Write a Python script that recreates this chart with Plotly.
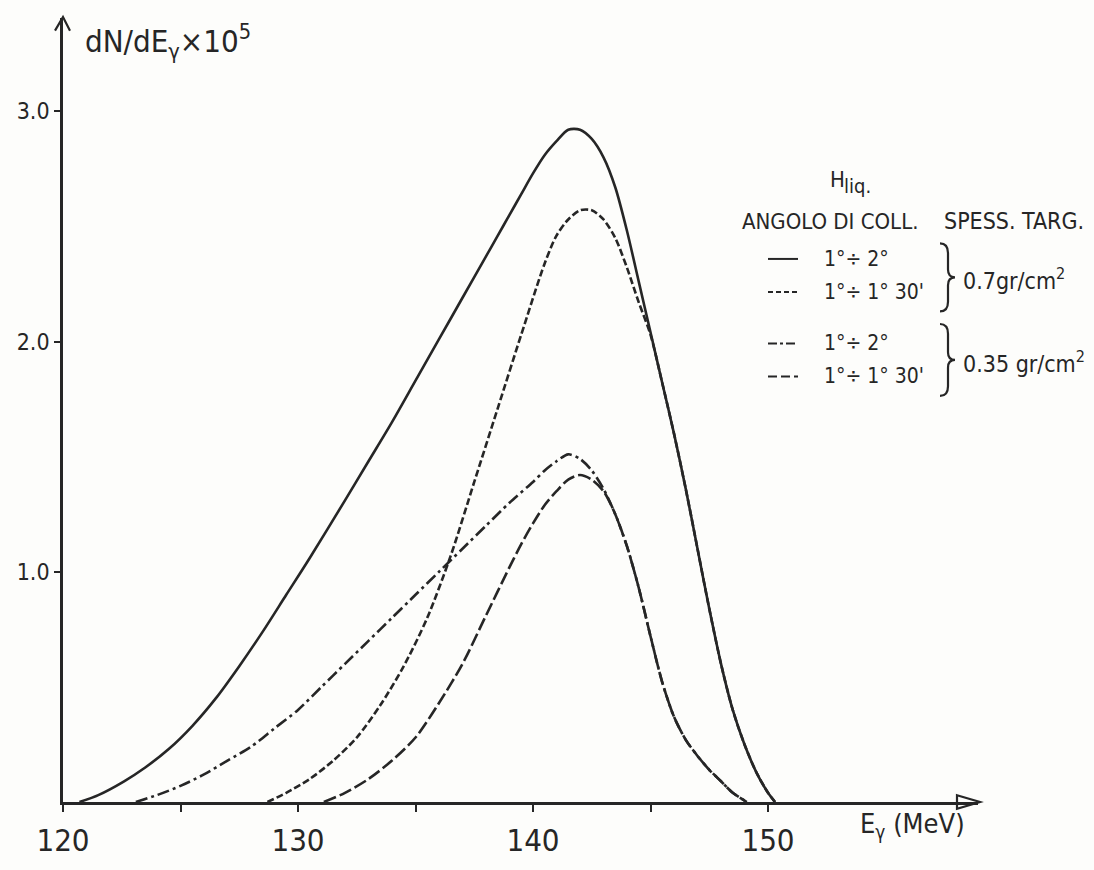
import plotly.graph_objects as go

# ---------------- data ----------------
# H liq., 0.7 gr/cm2, collimation 1°÷2°  (solid)
E_a = [120.7, 121.5, 122.6, 123.5, 124.5, 125.5, 126.5, 127.5, 128.5, 129.5, 130.5, 132.0,
       133.0, 134.0, 135.0, 136.0, 137.0, 138.0, 138.5, 139.0, 139.5, 140.0, 140.5, 141.0,
       141.5, 142.0, 142.5, 143.0, 143.5, 144.0, 144.5, 145.0, 145.5, 146.0, 146.5, 147.0,
       147.5, 148.0, 148.5, 149.0, 149.5, 150.0, 150.3]
V_a = [0.00, 0.03, 0.09, 0.15, 0.23, 0.33, 0.45, 0.59, 0.74, 0.90, 1.06, 1.31,
       1.48, 1.65, 1.83, 2.01, 2.19, 2.37, 2.46, 2.55, 2.64, 2.73, 2.81, 2.87,
       2.92, 2.92, 2.88, 2.80, 2.67, 2.48, 2.26, 2.04, 1.82, 1.60, 1.36, 1.10,
       0.84, 0.60, 0.40, 0.25, 0.13, 0.04, 0.00]

# H liq., 0.7 gr/cm2, collimation 1°÷1°30'  (short dashes)
E_b = [128.7, 129.5, 130.5, 131.5, 132.5, 133.5, 134.5, 135.5, 136.5, 137.5, 138.5, 139.5,
       140.5, 141.0, 141.5, 142.0, 142.5, 143.0, 143.5, 144.0, 144.5, 145.0, 145.5, 146.0,
       146.5, 147.0, 147.5, 148.0, 148.5, 149.0, 149.5, 150.0, 150.3]
V_b = [0.00, 0.04, 0.10, 0.18, 0.28, 0.42, 0.59, 0.80, 1.07, 1.39, 1.71, 2.03,
       2.34, 2.46, 2.53, 2.57, 2.57, 2.53, 2.45, 2.32, 2.17, 2.03, 1.82, 1.60,
       1.36, 1.10, 0.84, 0.60, 0.40, 0.25, 0.13, 0.04, 0.00]

# H liq., 0.35 gr/cm2, collimation 1°÷2°  (dash-dot)
E_c = [123.1, 124.0, 125.0, 126.0, 127.0, 128.0, 129.0, 130.0, 131.0, 132.0, 133.0, 134.0,
       135.0, 136.0, 137.0, 138.0, 139.0, 140.0, 140.5, 141.0, 141.5, 142.0, 142.5, 143.0,
       143.5, 144.0, 144.5, 145.0, 145.5, 146.0, 146.5, 147.0, 147.5, 148.0, 148.5, 149.1]
V_c = [0.00, 0.03, 0.07, 0.12, 0.18, 0.24, 0.32, 0.40, 0.50, 0.60, 0.70, 0.80,
       0.90, 1.00, 1.10, 1.20, 1.30, 1.39, 1.44, 1.48, 1.51, 1.49, 1.44, 1.36,
       1.25, 1.11, 0.93, 0.72, 0.52, 0.37, 0.27, 0.20, 0.14, 0.09, 0.04, 0.00]

# H liq., 0.35 gr/cm2, collimation 1°÷1°30'  (long dashes)
E_d = [131.1, 132.0, 133.0, 134.0, 135.0, 136.0, 137.0, 138.0, 139.0, 139.5, 140.0, 140.5,
       141.0, 141.5, 142.0, 142.5, 143.0, 143.5, 144.0, 144.5, 145.0, 145.5, 146.0, 146.5,
       147.0, 147.5, 148.0, 148.5, 149.1]
V_d = [0.00, 0.04, 0.10, 0.18, 0.28, 0.43, 0.60, 0.81, 1.02, 1.12, 1.21, 1.29,
       1.35, 1.40, 1.42, 1.40, 1.35, 1.25, 1.11, 0.93, 0.72, 0.52, 0.37, 0.27,
       0.20, 0.14, 0.09, 0.04, 0.00]

x_tickvals = [120, 125, 130, 135, 140, 145, 150]
x_ticktext = ["120", "", "130", "", "140", "", "150"]
y_tickvals = [1, 2, 3]
y_ticktext = ["1.0", "2.0", "3.0"]

legend_rows = ["1°÷ 2°", "1°÷ 1° 30'", "1°÷ 2°", "1°÷ 1° 30'"]
legend_dash = ["solid", "5px,3px", "9px,3px,3px,3px", "9px,4px"]

# ---------------- layout geometry ----------------
W, H = 1094, 870
L, R, T, B = 63, 116, 18, 45
PW, PH = W - L - R, H - T - B
INK = "#262626"
FONT = "Liberation Sans Narrow, DejaVu Sans Condensed, Arial Narrow, sans-serif"


def px(xp):
    return (xp - L) / PW


def py(yp):
    return (H - B - yp) / PH


fig = go.Figure()
styles = [("solid", E_a, V_a), ("7px,3px", E_b, V_b),
          ("12px,4px,3px,4px", E_c, V_c), ("13px,4px", E_d, V_d)]
for dash, ex, vy in styles:
    fig.add_trace(go.Scatter(x=ex, y=vy, mode="lines",
                             line=dict(color=INK, width=2.6, dash=dash, shape="spline", smoothing=0.8),
                             showlegend=False, hoverinfo="skip", cliponaxis=False))

fig.update_layout(
    width=W, height=H,
    margin=dict(l=L, r=R, t=T, b=B, pad=0),
    paper_bgcolor="#fdfdfb", plot_bgcolor="#fdfdfb",
    font=dict(family=FONT, color=INK),
    xaxis=dict(range=[120, 120 + PW / 23.5], showgrid=False, zeroline=False,
               showline=True, linecolor=INK, linewidth=2.6,
               tickvals=x_tickvals, ticktext=x_ticktext, ticks="outside", ticklen=7,
               tickwidth=2, tickcolor=INK, ticklabelstandoff=2,
               tickfont=dict(size=31, family=FONT, color=INK)),
    yaxis=dict(range=[0, PH / 237.0], showgrid=False, zeroline=False,
               showline=True, linecolor=INK, linewidth=2.6,
               tickvals=y_tickvals, ticktext=y_ticktext, ticks="outside", ticklen=6,
               tickwidth=2, tickcolor=INK, tickfont=dict(size=23, family=FONT, color=INK)),
)

shapes = []
# arrow heads of the axes
shapes.append(dict(type="path", xref="paper", yref="paper",
                   path=f"M {px(957)},{py(818)} L {px(980)},{py(825)} L {px(957)},{py(832)} Z",
                   line=dict(color=INK, width=2.2), fillcolor="rgba(0,0,0,0)"))
shapes.append(dict(type="path", xref="paper", yref="paper",
                   path=f"M {px(55)},{py(31)} L {px(63)},{py(17)} L {px(70)},{py(31)}",
                   line=dict(color=INK, width=2.2)))

# legend sample lines
row_y = [266, 300, 353, 387]
for yy, dash in zip(row_y, legend_dash):
    shapes.append(dict(type="line", xref="paper", yref="paper",
                       x0=px(768), x1=px(798), y0=py(yy), y1=py(yy),
                       line=dict(color=INK, width=2, dash=dash)))


def brace(x0, ytop, ybot):
    ym = (ytop + ybot) / 2
    xm = x0 + 8
    xt = x0 + 15
    p = (f"M {px(x0)},{py(ytop)} Q {px(xm)},{py(ytop)} {px(xm)},{py(ytop + 10)} "
         f"L {px(xm)},{py(ym - 8)} Q {px(xm)},{py(ym)} {px(xt)},{py(ym)} "
         f"Q {px(xm)},{py(ym)} {px(xm)},{py(ym + 8)} "
         f"L {px(xm)},{py(ybot - 10)} Q {px(xm)},{py(ybot)} {px(x0)},{py(ybot)}")
    return dict(type="path", xref="paper", yref="paper", path=p, line=dict(color=INK, width=2.2))


shapes.append(brace(940, 250, 320))
shapes.append(brace(940, 333, 407))
fig.update_layout(shapes=shapes)

ann = []


def text(xp, yp, s, size, xanchor="left", yanchor="middle"):
    ann.append(dict(xref="paper", yref="paper", x=px(xp), y=py(yp), text=s, showarrow=False,
                    xanchor=xanchor, yanchor=yanchor,
                    font=dict(size=size, family=FONT, color=INK)))


text(83, 42, "dN/dE<sub>γ</sub>×10<sup>5</sup>", 31)
text(858, 829, "E<sub>γ</sub> (MeV)", 27, yanchor="top")
text(828, 184, "H", 22)
text(842, 191, "liq.", 20)
text(740, 227, "ANGOLO DI COLL.", 22)
text(942, 227, "SPESS. TARG.", 23)
for yy, s in zip(row_y, legend_rows):
    text(822, yy, s, 21)
text(961, 287, "0.7gr/cm<sup>2</sup>", 23)
text(961, 372, "0.35 gr/cm<sup>2</sup>", 23)
fig.update_layout(annotations=ann)

fig.write_html("out.html")
